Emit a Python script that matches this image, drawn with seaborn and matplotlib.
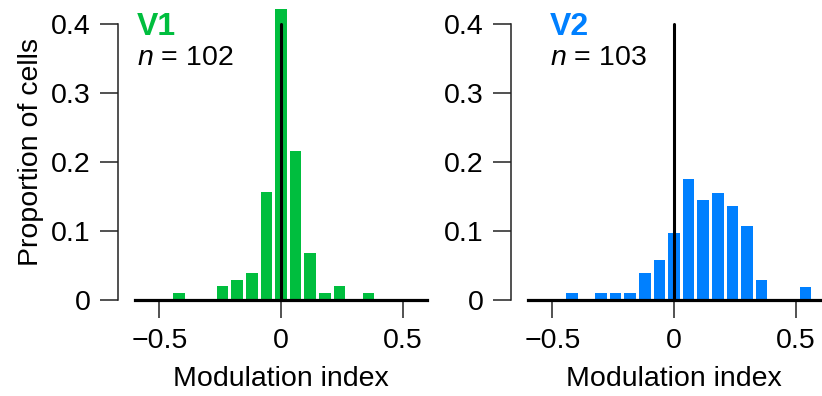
import numpy as np
import pandas as pd
import matplotlib
matplotlib.use("Agg")
import matplotlib.pyplot as plt
import seaborn as sns

# ---- data ----
bin_width = 0.06
v1_centers = [-0.42, -0.24, -0.18, -0.12, -0.06, 0.0, 0.06, 0.12, 0.18, 0.24, 0.36]
v1_counts = [1, 2, 3, 4, 16, 43, 22, 7, 1, 2, 1]
v1_n = 102
v2_centers = [-0.42, -0.30, -0.24, -0.18, -0.12, -0.06, 0.0, 0.06, 0.12, 0.18, 0.24, 0.30, 0.36, 0.54]
v2_counts = [1, 1, 1, 1, 4, 6, 10, 18, 15, 16, 14, 11, 3, 2]
v2_n = 103

x_ticks = [-0.5, 0, 0.5]
x_tick_labels = ["\u22120.5", "0", "0.5"]
y_ticks = [0, 0.1, 0.2, 0.3, 0.4]
y_tick_labels = ["0", "0.1", "0.2", "0.3", "0.4"]

green = "#00BE3E"
blue = "#0080FF"

sns.set_style("ticks")
plt.rcParams["font.family"] = ["Liberation Sans", "DejaVu Sans"]
plt.rcParams["mathtext.fontset"] = "custom"
plt.rcParams["mathtext.it"] = "Liberation Sans:italic"
plt.rcParams["mathtext.rm"] = "Liberation Sans"
plt.rcParams["text.color"] = "black"
plt.rcParams["axes.labelcolor"] = "black"
plt.rcParams["xtick.labelcolor"] = "black"
plt.rcParams["ytick.labelcolor"] = "black"

FS = 20.5

fig = plt.figure(figsize=(8.22, 3.96), dpi=100)
ax_h = (300 - 3.3) / 396
ax1 = fig.add_axes([135 / 822, 96 / 396, 292 / 822, ax_h])
ax2 = fig.add_axes([528 / 822, 96 / 396, 292 / 822, ax_h])

panels = [
    (ax1, v1_centers, v1_counts, v1_n, green, "V1", -0.592, True),
    (ax2, v2_centers, v2_counts, v2_n, blue, "V2", -0.51, False),
]

for ax, centers, counts, n, col, name, tx, show_ylabel in panels:
    df = pd.DataFrame({"mi": centers, "prop": np.array(counts, dtype=float) / n})
    sns.histplot(data=df, x="mi", weights="prop", binwidth=bin_width,
                 binrange=(-0.63, 0.63), shrink=0.8,
                 color=col, alpha=1, linewidth=0, ax=ax)
    ax.plot([0, 0], [0, 0.4], color="black", lw=2.2, zorder=3)
    ax.set_xlim(-0.6, 0.6)
    ax.set_ylim(0, 0.43)
    sns.despine(ax=ax)
    ax.spines["bottom"].set_linewidth(2.3)
    ax.spines["bottom"].set_color("black")
    ax.spines["left"].set_position(("outward", 12.2))
    ax.spines["left"].set_bounds(0, 0.4)
    ax.spines["left"].set_linewidth(1.1)
    ax.spines["left"].set_color("#222222")
    ax.set_xticks(x_ticks)
    ax.set_xticklabels(x_tick_labels)
    ax.set_yticks(y_ticks)
    ax.set_yticklabels(y_tick_labels)
    ax.tick_params(axis="both", direction="out", length=13, width=1.1,
                   color="#222222", labelsize=FS, pad=7)
    ax.set_xlabel("Modulation index", fontsize=FS, labelpad=9)
    if show_ylabel:
        ax.set_ylabel("Proportion of cells", fontsize=FS, labelpad=5)
    else:
        ax.set_ylabel("")
    ax.text(tx, 0.384, name, color=col, fontsize=23, fontweight="bold",
            ha="left", va="baseline")
    ax.text(tx, 0.3406, r"$n$ = %d" % n, color="black", fontsize=FS,
            ha="left", va="baseline")

fig.savefig("out.png", dpi=100)
